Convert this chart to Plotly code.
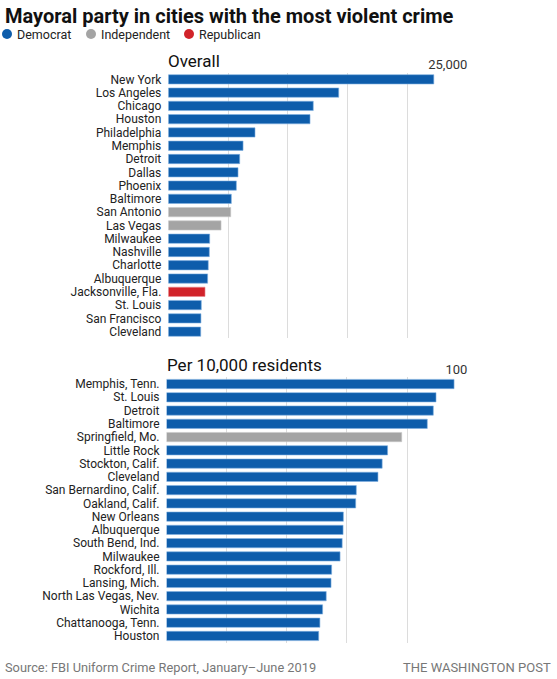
import plotly.graph_objects as go

# ---- data ----
overall_cities = ["New York", "Los Angeles", "Chicago", "Houston", "Philadelphia",
                  "Memphis", "Detroit", "Dallas", "Phoenix", "Baltimore",
                  "San Antonio", "Las Vegas", "Milwaukee", "Nashville", "Charlotte",
                  "Albuquerque", "Jacksonville, Fla.", "St. Louis", "San Francisco", "Cleveland"]
overall_values = [22200, 14250, 12120, 11850, 7250, 6250, 5970, 5830, 5690, 5270,
                  5220, 4410, 3460, 3430, 3340, 3290, 3070, 2760, 2730, 2710]
overall_party = ["D", "D", "D", "D", "D", "D", "D", "D", "D", "D",
                 "I", "I", "D", "D", "D", "D", "R", "D", "D", "D"]

per_cities = ["Memphis, Tenn.", "St. Louis", "Detroit", "Baltimore", "Springfield, Mo.",
              "Little Rock", "Stockton, Calif.", "Cleveland", "San Bernardino, Calif.",
              "Oakland, Calif.", "New Orleans", "Albuquerque", "South Bend, Ind.",
              "Milwaukee", "Rockford, Ill.", "Lansing, Mich.", "North Las Vegas, Nev.",
              "Wichita", "Chattanooga, Tenn.", "Houston"]
per_values = [95.6, 89.6, 88.7, 86.7, 78.2, 73.5, 71.7, 70.3, 63.1, 62.9,
              58.8, 58.7, 58.4, 57.7, 54.9, 54.7, 53.1, 51.9, 51.0, 50.6]
per_party = ["D", "D", "D", "D", "I", "D", "D", "D", "D", "D",
             "D", "D", "D", "D", "D", "D", "D", "D", "D", "D"]

party_names = {"D": "Democrat", "I": "Independent", "R": "Republican"}
party_colors = {"D": "#0e5dab", "I": "#a4a4a4", "R": "#d1232a"}
party_edge = {"D": "#7fb0e0", "I": "#c8c8c8", "R": "#e88a8e"}

W, H = 557, 679
FONT = "Roboto"


def py(px):
    return 1 - px / H


def px_(x):
    return x / W


fig = go.Figure()

fig.add_trace(go.Bar(
    x=overall_values, y=overall_cities, orientation="h",
    marker=dict(color=[party_colors[p] for p in overall_party],
                line=dict(color=[party_edge[p] for p in overall_party], width=0.6)),
    xaxis="x", yaxis="y", showlegend=False, hoverinfo="x+y"))

fig.add_trace(go.Bar(
    x=per_values, y=per_cities, orientation="h",
    marker=dict(color=[party_colors[p] for p in per_party],
                line=dict(color=[party_edge[p] for p in per_party], width=0.6)),
    xaxis="x2", yaxis="y2", showlegend=False, hoverinfo="x+y"))

grid = "#dcdcdc"
tickfont = dict(family=FONT, size=13, color="#333")
catfont = dict(family=FONT, size=12, color="#222")

fig.update_layout(
    width=W, height=H,
    margin=dict(l=0, r=0, t=0, b=0),
    paper_bgcolor="white", plot_bgcolor="white",
    bargap=0.3,
    showlegend=False,
    xaxis=dict(domain=[px_(168.3), px_(467.3)], range=[0, 25000], anchor="y",
               side="top", tickvals=[0, 5000, 10000, 15000, 20000, 25000],
               ticktext=["", "", "", "", "", "25,000"],
               showgrid=True, gridcolor=grid, gridwidth=1, zeroline=False,
               showline=False, ticks="", tickfont=tickfont,
               ticklabelposition="outside left", fixedrange=True),
    yaxis=dict(domain=[py(338.3), py(72.7)], anchor="x", autorange="reversed",
               tickmode="array", tickvals=overall_cities,
               showgrid=False, zeroline=False, showline=False, ticks="",
               tickfont=catfont, ticklabelstandoff=6, fixedrange=True),
    xaxis2=dict(domain=[px_(166.5), px_(467.3)], range=[0, 100], anchor="y2",
                side="top", tickvals=[0, 20, 40, 60, 80, 100],
                ticktext=["", "", "", "", "", "100"],
                showgrid=True, gridcolor=grid, gridwidth=1, zeroline=False,
                showline=False, ticks="", tickfont=tickfont,
                ticklabelposition="outside left", fixedrange=True),
    yaxis2=dict(domain=[py(642.6), py(377.4)], anchor="x2", autorange="reversed",
                tickmode="array", tickvals=per_cities,
                showgrid=False, zeroline=False, showline=False, ticks="",
                tickfont=catfont, ticklabelstandoff=6, fixedrange=True),
)

ann = []
ann.append(dict(text="<b>Mayoral party in cities with the most violent crime</b>",
                x=px_(3), y=py(2), xref="paper", yref="paper",
                xanchor="left", yanchor="top", showarrow=False,
                font=dict(family=FONT, size=20, color="#111")))

shapes = []
legend_items = [("D", 7), ("I", 91), ("R", 189)]
r = 5
for p, cx in legend_items:
    shapes.append(dict(type="circle", xref="paper", yref="paper",
                       x0=px_(cx - r), x1=px_(cx + r), y0=py(34 + r), y1=py(34 - r),
                       fillcolor=party_colors[p], line=dict(width=0)))
    ann.append(dict(text=party_names[p],
                    x=px_(cx + 8), y=py(34), xref="paper", yref="paper",
                    xanchor="left", yanchor="middle", showarrow=False,
                    font=dict(family=FONT, size=12.5, color="#222")))

ann.append(dict(text="Overall", x=px_(166), y=py(61), xref="paper", yref="paper",
                xanchor="left", yanchor="middle", showarrow=False,
                font=dict(family=FONT, size=17, color="#111")))
ann.append(dict(text="Per 10,000 residents", x=px_(165), y=py(365), xref="paper", yref="paper",
                xanchor="left", yanchor="middle", showarrow=False,
                font=dict(family=FONT, size=17, color="#111")))

ann.append(dict(text="Source: FBI Uniform Crime Report, January–June 2019",
                x=px_(3), y=py(667), xref="paper", yref="paper",
                xanchor="left", yanchor="middle", showarrow=False,
                font=dict(family=FONT, size=12.8, color="#777")))
ann.append(dict(text="THE WASHINGTON POST",
                x=px_(553), y=py(667), xref="paper", yref="paper",
                xanchor="right", yanchor="middle", showarrow=False,
                font=dict(family=FONT, size=13, color="#777")))

fig.update_layout(annotations=ann, shapes=shapes)

fig.write_html("out.html", config={"displayModeBar": False},
               post_script="document.body.style.margin='0';document.body.style.overflow='hidden';")
